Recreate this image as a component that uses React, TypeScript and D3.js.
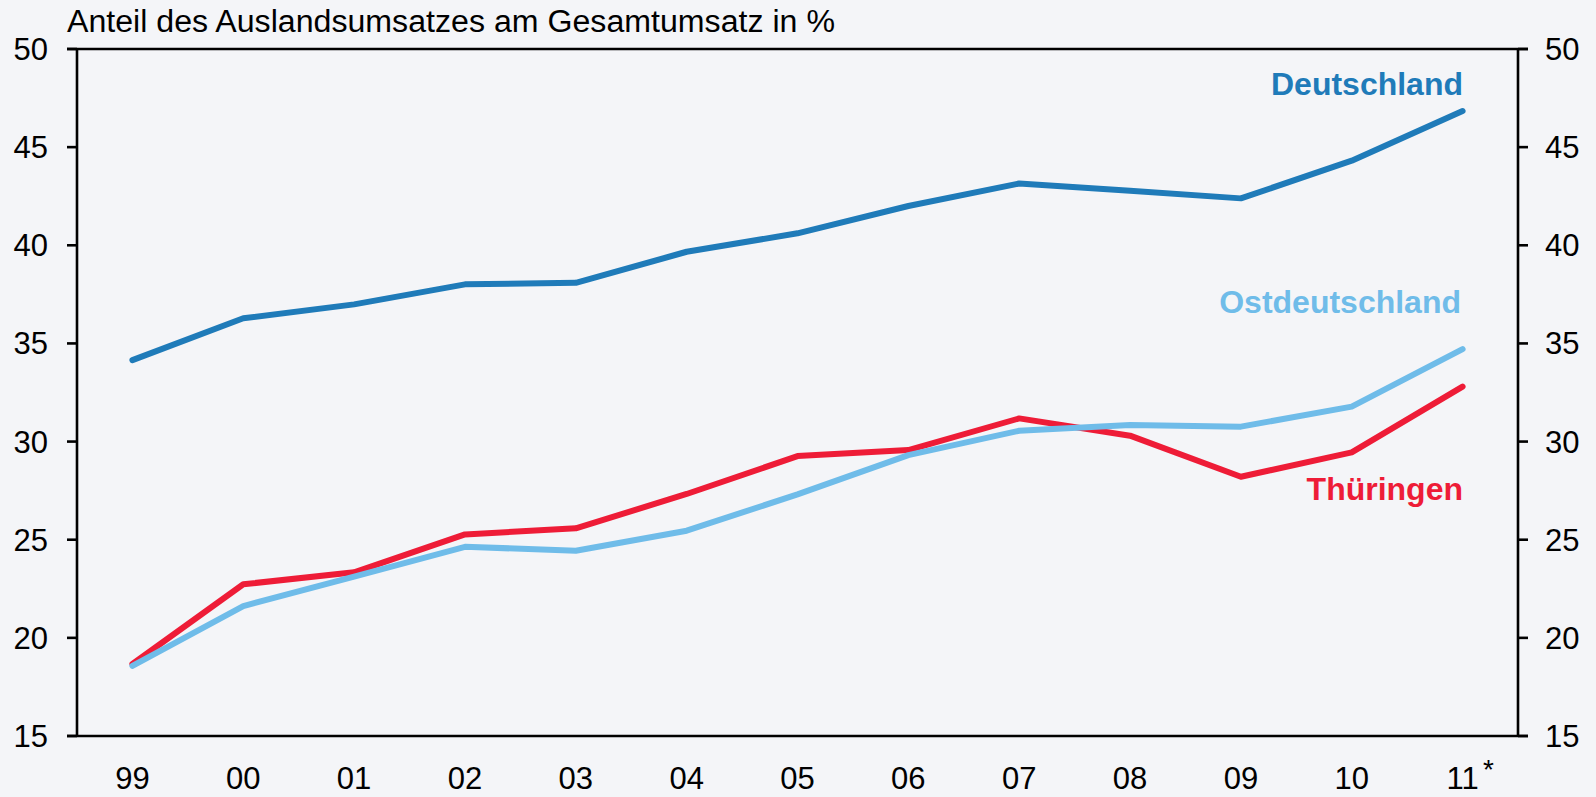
import React from "react";
import * as d3 from "d3";

const categories = ["99", "00", "01", "02", "03", "04", "05", "06", "07", "08", "09", "10", "11"];
const deutschland = [34.15, 36.28, 36.99, 38.01, 38.09, 39.67, 40.61, 42.0, 43.15, 42.78, 42.39, 44.31, 46.84];
const ostdeutschland = [18.57, 21.62, 23.12, 24.64, 24.44, 25.46, 27.31, 29.31, 30.55, 30.84, 30.76, 31.78, 34.71];
const thueringen = [18.67, 22.73, 23.34, 25.27, 25.58, 27.33, 29.26, 29.57, 31.18, 30.3, 28.21, 29.45, 32.8];
const yTicks = [15, 20, 25, 30, 35, 40, 45, 50];
const title = "Anteil des Auslandsumsatzes am Gesamtumsatz in %";

const W = 1596;
const H = 797;
const left = 77;
const right = 1518;
const top = 49;
const bottom = 736;
const FONT = "'Liberation Sans', Arial, sans-serif";

const series = [
  { name: "Deutschland", values: deutschland, color: "#1f7bb9", lx: 1463, ly: 95 },
  { name: "Ostdeutschland", values: ostdeutschland, color: "#6fbce9", lx: 1461, ly: 313 },
  { name: "Thüringen", values: thueringen, color: "#ee1c37", lx: 1463, ly: 500 },
];

export default function App() {
  const x = d3.scalePoint<string>().domain(categories).range([left, right]).padding(0.5);
  const y = d3.scaleLinear().domain([15, 50]).range([bottom, top]);
  const line = d3
    .line<number>()
    .x((_, i) => x(categories[i]) as number)
    .y((d) => y(d));

  const drawOrder = [series[0], series[2], series[1]];

  return (
    <svg
      width={W}
      height={H}
      style={{ position: "absolute", left: 0, top: 0, display: "block" }}
      fontFamily={FONT}
    >
      <rect x={0} y={0} width={W} height={H} fill="#f4f5f8" />
      <text x={67} y={32} fontSize={31} fill="#000" textLength={768} lengthAdjust="spacingAndGlyphs">
        {title}
      </text>
      {/* frame */}
      <line x1={left - 10} x2={right + 10} y1={top} y2={top} stroke="#000" strokeWidth={2.6} />
      <line x1={left - 10} x2={right + 10} y1={bottom} y2={bottom} stroke="#000" strokeWidth={2.6} />
      <line x1={left} x2={left} y1={top} y2={bottom} stroke="#000" strokeWidth={2.6} />
      <line x1={right} x2={right} y1={top} y2={bottom} stroke="#000" strokeWidth={2.6} />
      {yTicks.map((t) => (
        <g key={t}>
          <line x1={left - 10} x2={left} y1={y(t)} y2={y(t)} stroke="#000" strokeWidth={2.6} />
          <line x1={right} x2={right + 10} y1={y(t)} y2={y(t)} stroke="#000" strokeWidth={2.6} />
          <text x={48} y={y(t) + 11} fontSize={31} textAnchor="end" fill="#000">
            {t}
          </text>
          <text x={1545} y={y(t) + 11} fontSize={31} textAnchor="start" fill="#000">
            {t}
          </text>
        </g>
      ))}
      {categories.map((c) => (
        <text key={c} x={x(c)} y={789} fontSize={31} textAnchor="middle" fill="#000">
          {c}
        </text>
      ))}
      <text x={1483} y={779} fontSize={28} fill="#000">
        *
      </text>
      {drawOrder.map((s) => (
        <path
          key={s.name}
          d={line(s.values) || ""}
          fill="none"
          stroke={s.color}
          strokeWidth={6}
          strokeLinejoin="round"
          strokeLinecap="round"
        />
      ))}
      {series.map((s) => (
        <text
          key={s.name + "l"}
          x={s.lx}
          y={s.ly}
          fontSize={32}
          fontWeight="bold"
          textAnchor="end"
          fill={s.color}
        >
          {s.name}
        </text>
      ))}
    </svg>
  );
}
